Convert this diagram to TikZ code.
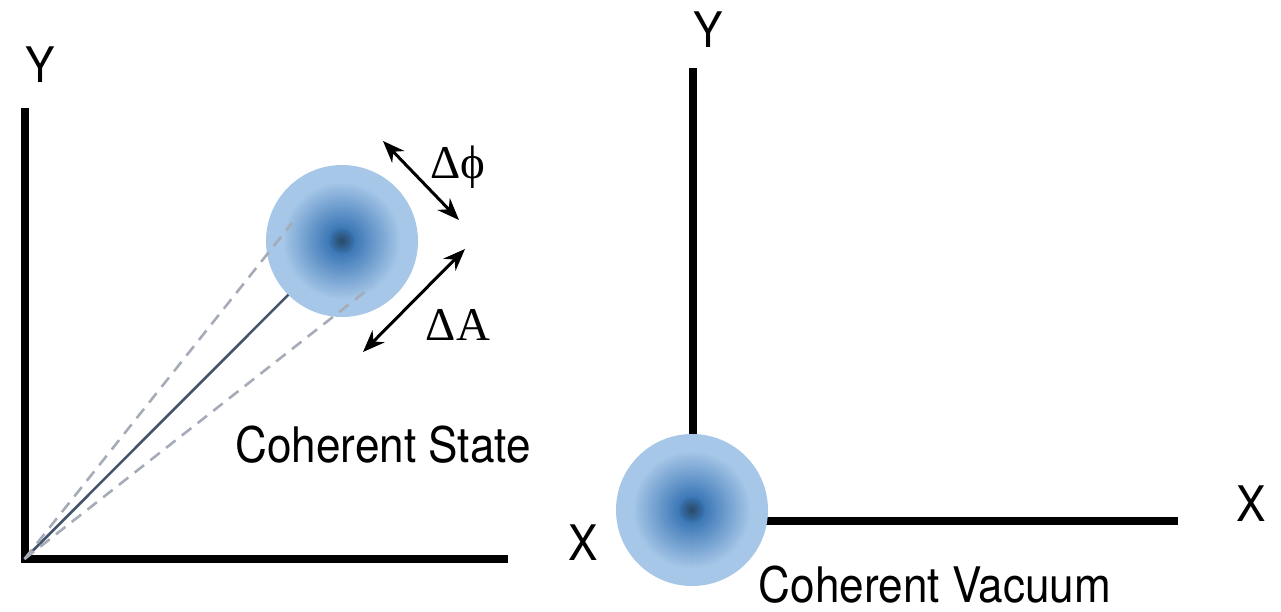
\documentclass[tikz,border=0pt]{standalone}
\usepackage{fontspec}
\setmainfont[FakeStretch=0.9]{TeX Gyre Heros}
\newfontfamily\serifgreek{Liberation Serif}
\usetikzlibrary{arrows.meta}
\definecolor{clight}{RGB}{166,199,232}
\definecolor{cmid}{RGB}{58,118,182}
\definecolor{cdark}{RGB}{40,72,100}
\definecolor{cline}{RGB}{68,84,106}
\definecolor{cdash}{RGB}{165,172,184}
\tikzset{
  axis/.style={line width=8pt, black, line join=miter},
  lbl/.style={font=\fontsize{49}{49}\selectfont, inner sep=0pt},
  glbl/.style={font=\serifgreek\fontsize{47}{47}\selectfont, inner sep=0pt},
  blobnode/.style={circle, minimum size=152pt, inner sep=0pt, outer sep=0pt},
  vec/.style={cline, line width=2.6pt},
  dashvec/.style={cdash, line width=2.6pt, dash pattern=on 12pt off 8pt},
  dblarrow/.style={line width=3pt, black, {Stealth[length=22pt,width=17pt]}-{Stealth[length=22pt,width=17pt]}}
}
\newcommand\drawblob[1]{%
  \foreach \r in {76,75,...,1}{%
    \pgfmathsetmacro\p{min(100,max(0,(0.78-\r/76)/0.62*100))}%
    \pgfmathsetmacro\q{max(0,(1-\r/14)*100)}%
    \fill[cdark!\q!cmid!\p!clight] (#1) circle[radius=\r pt];
  }%
}
\begin{document}
\begin{tikzpicture}[x=1pt,y=-1pt]
\useasboundingbox (0,0) rectangle (1281,611);
% ---------- left panel ----------
\coordinate (O1) at (24.5,559);
\coordinate (Y1) at (24.5,108);
\coordinate (X1) at (508,559);
\draw[axis] (Y1) -- (O1) -- (X1);
\node[blobnode] (c1) at (342,241) {};
\drawblob{c1.center}
\draw[vec] (O1) -- (c1);
\coordinate (du) at (292,223);
\coordinate (dl) at (371,287);
\draw[dashvec] (O1) -- (du);
\draw[dashvec] (O1) -- (dl);
\coordinate (pa) at (383,141);
\coordinate (pb) at (459,220);
\coordinate (aa) at (465,249);
\coordinate (ab) at (363,352);
\draw[dblarrow] (pa) -- (pb);
\draw[dblarrow] (aa) -- (ab);
\node[glbl, anchor=base] (dphi) at (458,178) {Δϕ};
\node[glbl, anchor=base] (dA) at (458,340) {ΔA};
\node[lbl] (yl) at (40,65) {Y};
\node[lbl, anchor=base] (cs) at (383,462) {Coherent State};
% ---------- right panel ----------
\coordinate (O2) at (693,521);
\coordinate (Y2) at (693,68);
\coordinate (X2) at (1178,521);
\draw[axis] (Y2) -- (O2) -- (X2);
\node[blobnode] (c2) at (692,510) {};
\drawblob{c2.center}
\node[lbl] (yr) at (708,30) {Y};
\node[lbl] (xr) at (1251,504) {X};
\node[lbl] (xl) at (583,543) {X};
\node[lbl, anchor=base] (cv) at (935,602) {Coherent Vacuum};
\end{tikzpicture}
\end{document}
